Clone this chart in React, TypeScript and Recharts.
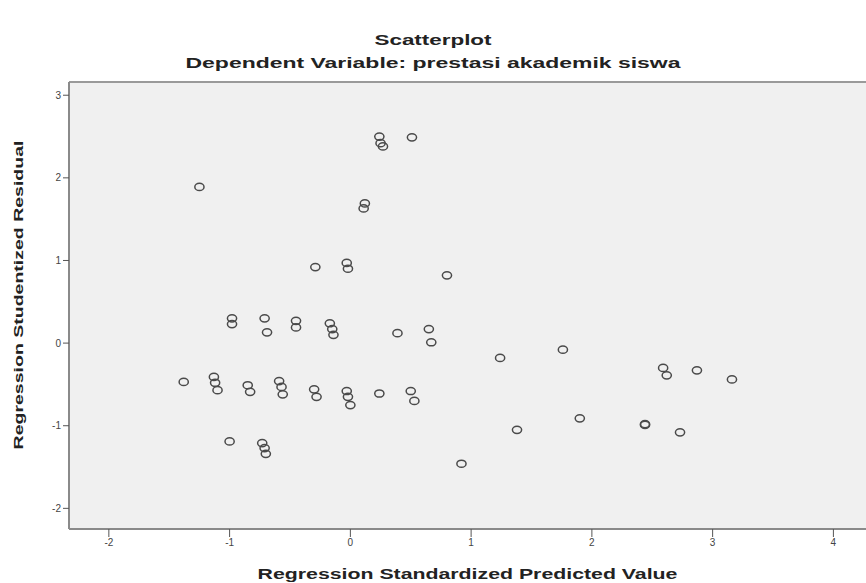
import React from "react";
import { ScatterChart, Scatter, XAxis, YAxis, CartesianGrid, ReferenceLine } from "recharts";

const chartTitle = "Scatterplot";
const chartSubtitle = "Dependent Variable: prestasi akademik siswa";
const xAxisTitle = "Regression Standardized Predicted Value";
const yAxisTitle = "Regression Studentized Residual";

const xTicks = [-2, -1, 0, 1, 2, 3, 4];
const yTicks = [-2, -1, 0, 1, 2, 3];
const xDomain = [-2.33, 4.27];
const yDomain = [-2.25, 3.16];

// predicted (standardized) values
const predicted = [
  -1.25, -0.29, -0.03, -0.02, 0.12, 0.11,
  0.24, 0.25, 0.27, 0.51, 0.8,
  -0.98, -0.98, -0.71, -0.69, -0.45, -0.45, -0.17, -0.15, -0.14,
  0.39, 0.65, 0.67, 1.24, 1.76,
  -1.38, -1.13, -1.12, -1.1, -0.85, -0.83, -0.59, -0.57, -0.56,
  -0.3, -0.28, -0.03, -0.02, 0.0, 0.24, 0.5, 0.53,
  2.59, 2.62, 2.87, 3.16,
  -1.0, -0.73, -0.71, -0.7, 0.92, 1.38, 1.9, 2.44, 2.44, 2.73,
];
// studentized residuals
const residual = [
  1.89, 0.92, 0.97, 0.9, 1.69, 1.63,
  2.5, 2.42, 2.38, 2.49, 0.82,
  0.3, 0.23, 0.3, 0.13, 0.27, 0.19, 0.24, 0.17, 0.1,
  0.12, 0.17, 0.01, -0.18, -0.08,
  -0.47, -0.41, -0.48, -0.57, -0.51, -0.59, -0.46, -0.53, -0.62,
  -0.56, -0.65, -0.58, -0.65, -0.75, -0.61, -0.58, -0.7,
  -0.3, -0.39, -0.33, -0.44,
  -1.19, -1.21, -1.27, -1.34, -1.46, -1.05, -0.91, -0.98, -0.99, -1.08,
];

const points = predicted.map((x, i) => ({ x, y: residual[i] }));

const Ring = (props: any) => {
  const { cx, cy } = props;
  if (cx == null || cy == null) return null;
  return <ellipse cx={cx} cy={cy} rx={4.6} ry={3.6} fill="none" stroke="#4a4a4a" strokeWidth={1.5} />;
};

const font = "'Liberation Sans', Arial, sans-serif";

const hTitle = (top: number, size: number, sx: number, left = 0, width = 866): React.CSSProperties => ({
  position: "absolute",
  left,
  width,
  top,
  textAlign: "center",
  fontSize: size,
  fontWeight: "bold",
  color: "#222",
  transform: `scaleX(${sx})`,
  transformOrigin: "center",
  whiteSpace: "nowrap",
  lineHeight: "16px",
});

export default function App() {
  return (
    <div style={{ position: "absolute", left: 0, top: 0, width: 866, height: 583, background: "#fff", fontFamily: font, overflow: "hidden" }}>
      <div style={hTitle(32, 14, 1.6)}>{chartTitle}</div>
      <div style={hTitle(55, 15, 1.53)}>{chartSubtitle}</div>
      <div style={hTitle(566, 14, 1.52, 69, 797)}>{xAxisTitle}</div>
      <div
        style={{
          position: "absolute",
          left: 18,
          top: 295,
          transform: "translate(-50%, -50%) rotate(-90deg) scaleX(1.5)",
          whiteSpace: "nowrap",
          fontSize: 13,
          fontWeight: "bold",
          color: "#222",
        }}
      >
        {yAxisTitle}
      </div>
      <div style={{ position: "absolute", left: 0, top: 0 }}>
        <ScatterChart width={866} height={583} margin={{ top: 82, right: 0, bottom: 24, left: 29 }}>
          <CartesianGrid fill="#f0f0f0" horizontal={false} vertical={false} />
          <ReferenceLine y={yDomain[1]} stroke="#9a9a9a" strokeWidth={2} />
          <XAxis
            type="number"
            dataKey="x"
            domain={xDomain}
            ticks={xTicks}
            allowDataOverflow
            height={30}
            axisLine={{ stroke: "#8a8a8a", strokeWidth: 2 }}
            tickLine={{ stroke: "#555" }}
            tickSize={8}
            tick={{ fontSize: 10, fill: "#444", fontFamily: font }}
          />
          <YAxis
            type="number"
            dataKey="y"
            domain={yDomain}
            ticks={yTicks}
            allowDataOverflow
            width={40}
            axisLine={{ stroke: "#8a8a8a", strokeWidth: 2 }}
            tickLine={{ stroke: "#555" }}
            tickSize={6}
            tick={{ fontSize: 10, fill: "#444", fontFamily: font }}
          />
          <Scatter data={points} shape={<Ring />} isAnimationActive={false} />
        </ScatterChart>
      </div>
    </div>
  );
}
